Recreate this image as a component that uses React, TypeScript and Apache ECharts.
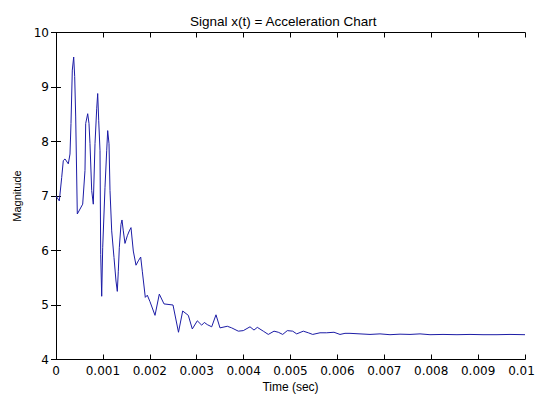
import React, { useEffect, useRef } from "react";
import * as echarts from "echarts";

const timeSec: number[] = [
  0.0, 0.0000704, 0.0001215, 0.0001557, 0.0001919, 0.0002623, 0.0002985, 0.0003198,
  0.0003475, 0.0003774, 0.0003987, 0.00042, 0.0004542, 0.0005693, 0.0006183, 0.0006333,
  0.0006759, 0.0007036, 0.0007249, 0.0007612, 0.0007953, 0.0008316, 0.0008678, 0.0008891,
  0.0009104, 0.0009382, 0.0009531, 0.0009744, 0.0009957, 0.0010448, 0.001081, 0.0011023,
  0.0011301, 0.0011514, 0.0011876, 0.0012367, 0.0012793, 0.001307, 0.0013284, 0.0013497,
  0.0013859, 0.0014072, 0.001435, 0.0014712, 0.0015203, 0.0015629, 0.0015991, 0.0016482,
  0.0017058, 0.0017548, 0.001806, 0.0018401, 0.0019041, 0.0019467, 0.0020043, 0.0021109,
  0.0022026, 0.0023028, 0.0024947, 0.0026119, 0.0027015, 0.0028209, 0.0029062, 0.0030128,
  0.0031066, 0.003162, 0.003226, 0.0033198, 0.0034115, 0.0034968, 0.0036525, 0.0037463,
  0.003887, 0.0039936, 0.0041365, 0.0042217, 0.0042921, 0.00442, 0.0045267, 0.0046482,
  0.0047399, 0.0048337, 0.0049318, 0.0050469, 0.0051322, 0.0052729, 0.0053795, 0.0054733,
  0.005629, 0.0057719, 0.0059275, 0.0060554, 0.006162, 0.0062687, 0.0064819, 0.0066951,
  0.0069083, 0.0071215, 0.0073348, 0.007548, 0.0077612, 0.0079744, 0.0082516, 0.0085501,
  0.0088273, 0.0091045, 0.009403, 0.0096802, 0.01,
];

const magnitude: number[] = [
  7.0, 6.91, 7.34, 7.65, 7.68, 7.59, 7.77, 8.33,
  9.31, 9.55, 9.19, 8.45, 6.67, 6.85, 7.47, 8.33,
  8.51, 8.33, 7.96, 7.1, 6.85, 7.96, 8.6, 8.88,
  8.39, 7.83, 5.93, 5.16, 6.05, 7.16, 7.83, 8.2,
  7.96, 7.1, 6.36, 5.87, 5.44, 5.25, 5.62, 6.05,
  6.48, 6.56, 6.36, 6.13, 6.27, 6.36, 6.42, 5.99,
  5.73, 5.81, 5.88, 5.62, 5.14, 5.18, 5.06, 4.81,
  5.2, 5.02, 5.0, 4.5, 4.89, 4.81, 4.56, 4.71,
  4.63, 4.68, 4.64, 4.6, 4.82, 4.58, 4.61, 4.58,
  4.52, 4.53, 4.6, 4.54, 4.59, 4.52, 4.46, 4.52,
  4.5, 4.46, 4.53, 4.52, 4.47, 4.52, 4.49, 4.46,
  4.49, 4.49, 4.5, 4.46, 4.48, 4.48, 4.47, 4.46,
  4.47, 4.455, 4.465, 4.46, 4.47, 4.455, 4.46, 4.455,
  4.46, 4.455, 4.455, 4.46, 4.455,
];

const xTickLabels: string[] = [
  "0", "0.001", "0.002", "0.003", "0.004", "0.005", "0.006", "0.007", "0.008", "0.009", "0.01",
];
const yTickLabels: string[] = ["4", "5", "6", "7", "8", "9", "10"];

const titleText = "Signal x(t) = Acceleration Chart";
const xName = "Time (sec)";
const yName = "Magnitude";

export default function App() {
  const ref = useRef<HTMLDivElement>(null);
  useEffect(() => {
    if (!ref.current) return;
    const chart = echarts.init(ref.current, undefined, { renderer: "svg" });
    const font = "Arial, 'Liberation Sans', Helvetica, sans-serif";
    const tickFont = "'DejaVu Sans', Arial, sans-serif";
    const axisLine = { show: true, lineStyle: { color: "#000", width: 1 } };
    const tick = { show: true, inside: true, length: 5, lineStyle: { color: "#000" } };
    const data = timeSec.map((t, i) => [t, magnitude[i]]);
    const lastIdx = xTickLabels.length - 1;
    chart.setOption({
      animation: false,
      backgroundColor: "#fff",
      title: {
        text: titleText,
        left: 185,
        top: 9,
        textStyle: { fontSize: 13.5, fontWeight: "normal", color: "#000", fontFamily: font },
      },
      grid: {
        left: 56,
        right: 11,
        top: 32.5,
        bottom: 34.5,
        containLabel: false,
        outerBoundsMode: "none",
      },
      xAxis: [
        {
          type: "value",
          position: "bottom",
          min: 0,
          max: 0.01,
          interval: 0.001,
          axisLine,
          axisTick: tick,
          splitLine: { show: false },
          axisLabel: {
            color: "#000",
            fontSize: 12,
            fontFamily: tickFont,
            margin: 5,
            formatter: (v: number) => {
              const i = Math.round(v / 0.001);
              const s = xTickLabels[i] ?? "";
              return i === lastIdx ? `{last|${s}}` : s;
            },
            rich: {
              last: {
                color: "#000",
                fontSize: 12,
                fontFamily: tickFont,
                padding: [0, 7, 0, 0],
              },
            },
          },
          name: xName,
          nameLocation: "middle",
          nameGap: 20,
          nameTextStyle: { color: "#000", fontSize: 12, fontFamily: font },
        },
        {
          type: "value",
          position: "top",
          min: 0,
          max: 0.01,
          interval: 0.001,
          axisLine,
          axisTick: tick,
          splitLine: { show: false },
          axisLabel: { show: false },
        },
      ],
      yAxis: [
        {
          type: "value",
          position: "left",
          min: 4,
          max: 10,
          interval: 1,
          axisLine,
          axisTick: tick,
          splitLine: { show: false },
          axisLabel: {
            color: "#000",
            fontSize: 12,
            fontFamily: tickFont,
            margin: 7,
            formatter: (v: number) => yTickLabels[Math.round(v - 4)] ?? "",
          },
          name: yName,
          nameLocation: "middle",
          nameGap: 29,
          nameTextStyle: { color: "#000", fontSize: 11, fontFamily: font },
        },
        {
          type: "value",
          position: "right",
          min: 4,
          max: 10,
          interval: 1,
          axisLine,
          axisTick: tick,
          splitLine: { show: false },
          axisLabel: { show: false },
        },
      ],
      series: [
        {
          type: "line",
          xAxisIndex: 0,
          yAxisIndex: 0,
          data,
          showSymbol: false,
          symbol: "none",
          lineStyle: { color: "#1c1ca6", width: 1 },
        },
      ],
    });
    return () => chart.dispose();
  }, []);
  return (
    <div
      ref={ref}
      style={{ position: "absolute", left: 0, top: 0, width: 536, height: 394 }}
    />
  );
}
